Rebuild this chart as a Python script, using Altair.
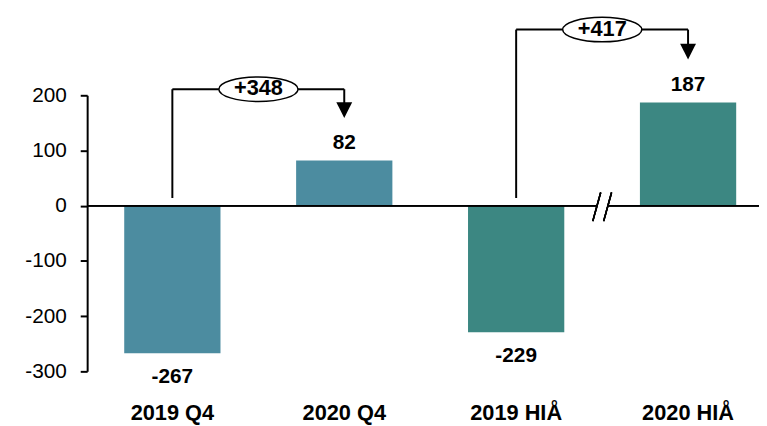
import altair as alt
import pandas as pd

# ---------------- data ----------------
categories = ["2019 Q4", "2020 Q4", "2019 HIÅ", "2020 HIÅ"]
values = [-267, 82, -229, 187]
value_labels = ["-267", "82", "-229", "187"]
bar_colors = ["#4C8CA0", "#4C8CA0", "#3C8782", "#3C8782"]

from_cat = ["2019 Q4", "2019 HIÅ"]
to_cat = ["2020 Q4", "2020 HIÅ"]
change_text = ["+348", "+417"]
bracket_level = [211, 319]
bracket_base = [14, 14]
arrow_head = [173, 279]

y_ticks = [-300, -200, -100, 0, 100, 200]

FONT = "Liberation Sans"

bars_df = pd.DataFrame({"cat": categories, "value": values,
                        "vlabel": value_labels, "color": bar_colors})
br_df = pd.DataFrame({
    "from": from_cat, "to": to_cat, "label": change_text,
    "level": bracket_level, "base": bracket_base, "head": arrow_head,
})

xscale = alt.Scale(domain=categories, paddingInner=0.44, paddingOuter=0.154, align=0.7)
yscale = alt.Scale(domain=[-300, 200], nice=False, zero=False)

x_main = alt.X("cat:N", sort=categories, scale=xscale, title=None,
               axis=alt.Axis(title=None, domain=False, ticks=False, tickSize=0,
                             labelAngle=0, labelFont=FONT, labelFontSize=22,
                             labelFontWeight="bold", labelColor="black",
                             labelPadding=49, labelBaseline="alphabetic"))
y_main = alt.Y("value:Q", scale=yscale, title=None,
               axis=alt.Axis(title=None, values=y_ticks, grid=False,
                             domainColor="black", domainWidth=2,
                             tickColor="black", tickWidth=2, tickSize=7,
                             labelFont=FONT, labelFontSize=21, labelColor="black",
                             labelPadding=14,
                             labelExpr="toString(datum.value)"))


def X(field):
    return alt.X(field, scale=xscale, title=None)


def Y(field):
    return alt.Y(field, scale=yscale, title=None)


base_bars = alt.Chart(bars_df)

bars = base_bars.mark_bar().encode(
    x=x_main,
    y=y_main,
    y2=alt.datum(0),
    color=alt.Color("color:N", scale=None, legend=None),
)

pos_labels = base_bars.transform_filter("datum.value >= 0").mark_text(
    font=FONT, fontSize=21, fontWeight="bold", color="black",
    baseline="alphabetic", dy=-12,
).encode(x=X("cat:N"), y=Y("value:Q"), text="vlabel:N")

neg_labels = base_bars.transform_filter("datum.value < 0").mark_text(
    font=FONT, fontSize=21, fontWeight="bold", color="black",
    baseline="alphabetic", dy=30,
).encode(x=X("cat:N"), y=Y("value:Q"), text="vlabel:N")

# zero line with axis break
zero_left = alt.Chart(bars_df).mark_rule(color="black", strokeWidth=1.5).encode(
    x=alt.value(0), x2=alt.value(515), y=alt.datum(0))
zero_right = alt.Chart(bars_df).mark_rule(color="black", strokeWidth=1.5).encode(
    x=alt.value(526), x2=alt.value(690), y=alt.datum(0))
slash1 = alt.Chart(bars_df).mark_rule(color="black", strokeWidth=1.5).encode(
    x=alt.value(519), x2=alt.value(511), y=alt.datum(24), y2=alt.datum(-28))
slash2 = alt.Chart(bars_df).mark_rule(color="black", strokeWidth=1.5).encode(
    x=alt.value(530), x2=alt.value(522), y=alt.datum(24), y2=alt.datum(-28))

br = alt.Chart(br_df)
up_line = br.mark_rule(color="black", strokeWidth=2).encode(
    x=X("from:N"), y=Y("base:Q"), y2="level:Q")
top_line = br.mark_rule(color="black", strokeWidth=2).encode(
    x=X("from:N"), x2="to:N", y=Y("level:Q"))
down_line = br.mark_rule(color="black", strokeWidth=2).encode(
    x=X("to:N"), y=Y("level:Q"), y2="head:Q")
heads = br.mark_point(shape="M-1,-1L1,-1L0,1Z", size=256, filled=True,
                      color="black", opacity=1, strokeWidth=0).encode(
    x=X("to:N"), y=Y("head:Q"))

ellipse_path = ("M-1,0 C-1,-0.171 -0.552,-0.31 0,-0.31 C0.552,-0.31 1,-0.171 1,0 "
                "C1,0.171 0.552,0.31 0,0.31 C-0.552,0.31 -1,0.171 -1,0 Z")
ellipses = br.mark_point(shape=ellipse_path, size=6400, filled=True,
                         fill="white", stroke="black", strokeWidth=1.5,
                         opacity=1, fillOpacity=1, xOffset=87).encode(
    x=X("from:N"), y=Y("level:Q"))
ell_text = br.mark_text(font=FONT, fontSize=22, fontWeight="bold", color="black",
                        baseline="middle", dx=87, dy=-1).encode(
    x=X("from:N"), y=Y("level:Q"), text="label:N")

chart = alt.layer(
    bars, zero_left, zero_right, slash1, slash2,
    pos_labels, neg_labels,
    up_line, top_line, down_line, heads, ellipses, ell_text,
).properties(
    width=672, height=279,
    background="white",
    autosize=alt.AutoSizeParams(type="none"),
    padding={"left": 80, "top": 86, "right": 7, "bottom": 52},
).configure_view(stroke=None)

chart.save("out.html", embed_options={"renderer": "svg", "actions": False})
